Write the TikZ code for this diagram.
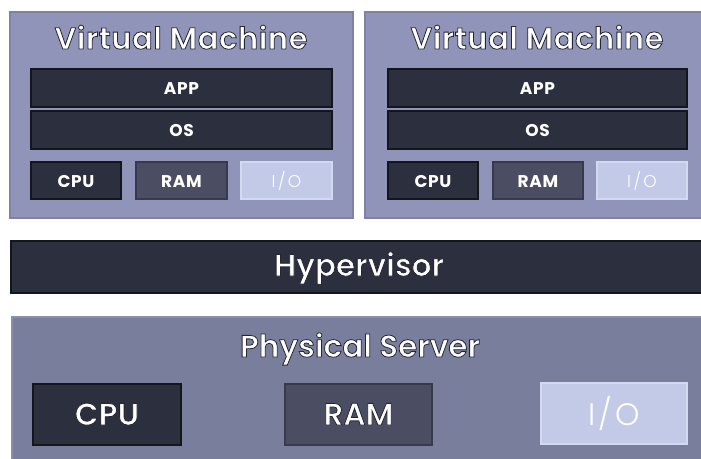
\documentclass[tikz,border=0pt]{standalone}
\usepackage{fontspec}
\setmainfont{Poppins}
\IfFontExistsTF{Poppins SemiBold}
  {\newfontfamily\popsemi{Poppins SemiBold}}
  {\newfontfamily\popsemi{Poppins}[FakeBold=1.2]}
\IfFontExistsTF{Poppins Light}
  {\newfontfamily\poplight{Poppins Light}}
  {\newfontfamily\poplight{Poppins}}

% palette
\definecolor{vmfill}{HTML}{9094B9}
\definecolor{vmedge}{HTML}{7E82A6}
\definecolor{hostfill}{HTML}{7A7E9D}
\definecolor{hostedge}{HTML}{8B8FAE}
\definecolor{darkfill}{HTML}{2C303E}
\definecolor{darkedge}{HTML}{14161D}
\definecolor{midfill}{HTML}{4B4E63}
\definecolor{midedge}{HTML}{373A4B}
\definecolor{lightfill}{HTML}{C2CAE8}
\definecolor{lightedge}{HTML}{D3D9F1}

% white lettering stroked with a thin dark outline (fill, then stroke)
\newcommand\outlined[1]{%
  \special{pdf:literal direct 2 Tr 0.8 w 0.14 0.15 0.2 RG}#1%
  \special{pdf:literal direct 0 Tr}}

\tikzset{
  every node/.style={inner sep=0pt, outer sep=0pt, text=white},
  panel/.style={rectangle, anchor=north west, line width=1.2pt},
  vmpanel/.style={panel, fill=vmfill, draw=vmedge},
  hostpanel/.style={panel, fill=hostfill, draw=hostedge},
  darkbox/.style={panel, fill=darkfill, draw=darkedge},
  midbox/.style={panel, fill=midfill, draw=midedge},
  lightbox/.style={panel, fill=lightfill, draw=lightedge},
  label/.style={anchor=base},
  smalllabel/.style={label, font=\bfseries\fontsize{17}{19}\selectfont\addfontfeature{LetterSpace=4}},
  iolabel/.style={label, font=\poplight\fontsize{17}{19}\selectfont\addfontfeature{LetterSpace=14}},
  vmtitle/.style={label, font=\popsemi\fontsize{30.5}{33}\selectfont\addfontfeature{LetterSpace=2}},
  biglabel/.style={label, font=\popsemi\fontsize{31}{34}\selectfont},
  bigio/.style={label, font=\poplight\fontsize{31}{34}\selectfont\addfontfeature{LetterSpace=10}},
}

\begin{document}
\begin{tikzpicture}[x=1pt, y=-1pt]
  \useasboundingbox (0,0) rectangle (701,458);
  \fill[white] (0,0) rectangle (701,458);

  % two virtual machines
  \node[vmpanel, minimum width=343, minimum height=206] (a-panel) at (10,12) {};
  \node[vmpanel, minimum width=345, minimum height=206] (b-panel) at (365,12) {};

  % contents of the first machine
  \node[vmtitle] (a-title) at (181,49) {\outlined{Virtual Machine}};
  \node[darkbox, minimum width=301, minimum height=38] (a-app) at (31,69) {};
  \node[darkbox, minimum width=301, minimum height=38] (a-os) at (31,111) {};
  \node[darkbox, minimum width=90, minimum height=37] (a-cpu) at (31,162) {};
  \node[midbox, minimum width=91, minimum height=37] (a-ram) at (136,162) {};
  \node[lightbox, minimum width=91, minimum height=37] (a-io) at (241,162) {};
  \node[smalllabel] (a-app-t) at (a-app.center |- 0,94) {APP};
  \node[smalllabel] (a-os-t) at (a-os.center |- 0,136) {OS};
  \node[smalllabel] (a-cpu-t) at (a-cpu.center |- 0,187) {CPU};
  \node[smalllabel] (a-ram-t) at (a-ram.center |- 0,187) {RAM};
  \node[iolabel] (a-io-t) at (a-io.center |- 0,187) {I/O};

  % contents of the second machine
  \node[vmtitle] (b-title) at (537,49) {\outlined{Virtual Machine}};
  \node[darkbox, minimum width=299, minimum height=38] (b-app) at (388,69) {};
  \node[darkbox, minimum width=299, minimum height=38] (b-os) at (388,111) {};
  \node[darkbox, minimum width=90, minimum height=37] (b-cpu) at (388,162) {};
  \node[midbox, minimum width=90, minimum height=37] (b-ram) at (493,162) {};
  \node[lightbox, minimum width=90, minimum height=37] (b-io) at (597,162) {};
  \node[smalllabel] (b-app-t) at (b-app.center |- 0,94) {APP};
  \node[smalllabel] (b-os-t) at (b-os.center |- 0,136) {OS};
  \node[smalllabel] (b-cpu-t) at (b-cpu.center |- 0,187) {CPU};
  \node[smalllabel] (b-ram-t) at (b-ram.center |- 0,187) {RAM};
  \node[iolabel] (b-io-t) at (b-io.center |- 0,187) {I/O};

  % hypervisor layer
  \node[darkbox, minimum width=700, minimum height=52] (hyper) at (11,241) {};
  \node[biglabel] (hyper-text) at (359,276) {\outlined{Hypervisor}};

  % physical server
  \node[hostpanel, minimum width=700, minimum height=150] (host) at (12,317) {};
  \node[biglabel] (host-title) at (360,357) {\outlined{Physical Server}};
  \node[darkbox, minimum width=148, minimum height=61] (host-cpu) at (33,384) {};
  \node[midbox, minimum width=147, minimum height=61] (host-ram) at (285,384) {};
  \node[lightbox, minimum width=146, minimum height=61] (host-io) at (541,383) {};
  \node[biglabel] (host-cpu-t) at (host-cpu.center |- 0,425) {\outlined{CPU}};
  \node[biglabel] (host-ram-t) at (host-ram.center |- 0,425) {\outlined{RAM}};
  \node[bigio] (host-io-t) at (host-io.center |- 0,425) {I/O};
\end{tikzpicture}
\end{document}
